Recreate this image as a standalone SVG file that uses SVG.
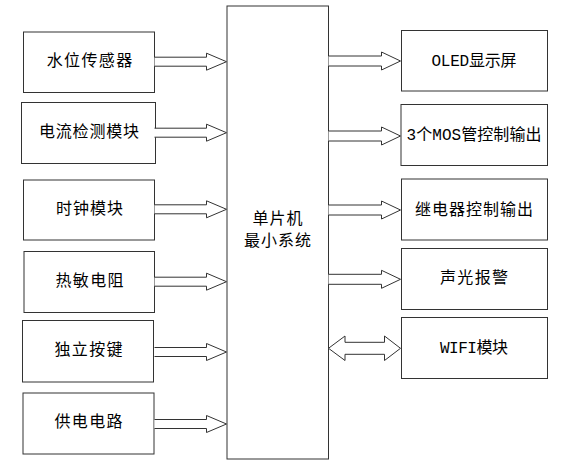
<svg xmlns="http://www.w3.org/2000/svg" width="567" height="472" viewBox="0 0 567 472">
<style>
rect{fill:#fff;stroke:#333;stroke-width:1}
.ar{fill:#fff;stroke:#333;stroke-width:1;stroke-linejoin:miter}
text{font-family:"Liberation Mono","Noto Sans CJK SC",sans-serif;font-size:16px;fill:#000;text-anchor:middle;dominant-baseline:central}
</style>
<defs>
<path id="al" class="ar" d="M154.5,-4.5H206.5V-8.5L226.5,0L206.5,8.5V4.5H154.5"/>
<path id="ar" class="ar" d="M328.5,-5H381.5V-9L400.5,0L381.5,9V5H328.5"/>
</defs>
<rect width="567" height="472" style="fill:#fff;stroke:none"/>
<g id="mcu"><rect x="227" y="6" width="101.5" height="453"/>
<text x="277.5" y="220" textLength="50" lengthAdjust="spacing">单片机</text>
<text x="277.5" y="242" textLength="67" lengthAdjust="spacing">最小系统</text></g>
<g id="n1"><rect x="23.5" y="32" width="131" height="60.5"/><text x="89.5" y="62" textLength="85.5" lengthAdjust="spacing">水位传感器</text></g>
<g id="n2"><rect x="21.5" y="102.5" width="134" height="61"/><text x="89" y="133" textLength="100" lengthAdjust="spacing">电流检测模块</text></g>
<g id="n3"><rect x="23.5" y="180" width="131" height="60"/><text x="89.5" y="210" textLength="67" lengthAdjust="spacing">时钟模块</text></g>
<g id="n4"><rect x="24" y="251.5" width="130.5" height="61"/><text x="89.5" y="282" textLength="68" lengthAdjust="spacing">热敏电阻</text></g>
<g id="n5"><rect x="22.5" y="320.5" width="131" height="61.5"/><text x="88.5" y="351" textLength="68" lengthAdjust="spacing">独立按键</text></g>
<g id="n6"><rect x="23" y="393" width="131" height="61"/><text x="88.5" y="423" textLength="68" lengthAdjust="spacing">供电电路</text></g>
<g id="r1"><rect x="401.5" y="30.5" width="146" height="60.5"/><text x="474" y="61.5" textLength="85" lengthAdjust="spacing">OLED显示屏</text></g>
<g id="r2"><rect x="401" y="104.5" width="146.5" height="61"/><text x="474" y="136" textLength="135" lengthAdjust="spacing">3个MOS管控制输出</text></g>
<g id="r3"><rect x="401.5" y="179" width="146" height="61"/><text x="474" y="210.5" textLength="118" lengthAdjust="spacing">继电器控制输出</text></g>
<g id="r4"><rect x="401.5" y="248.5" width="146" height="61"/><text x="474" y="279" textLength="68" lengthAdjust="spacing">声光报警</text></g>
<g id="r5"><rect x="401.5" y="317.5" width="146" height="61"/><text x="474" y="348.5" textLength="68" lengthAdjust="spacing">WIFI模块</text></g>
<g id="connectors">
<use href="#al" y="61.7"/>
<use href="#al" y="132.7"/>
<use href="#al" y="209.3"/>
<use href="#al" y="281.7"/>
<use href="#al" y="352"/>
<use href="#al" y="424"/>
<use href="#ar" y="61"/>
<use href="#ar" y="136"/>
<use href="#ar" y="210"/>
<use href="#ar" y="279.3"/>
<path class="ar" d="M328.5,348.3L345,336V342.3H384.5V336L400.5,348.3L384.5,360.5V354.3H345V360.5Z"/>
</g>
</svg>
